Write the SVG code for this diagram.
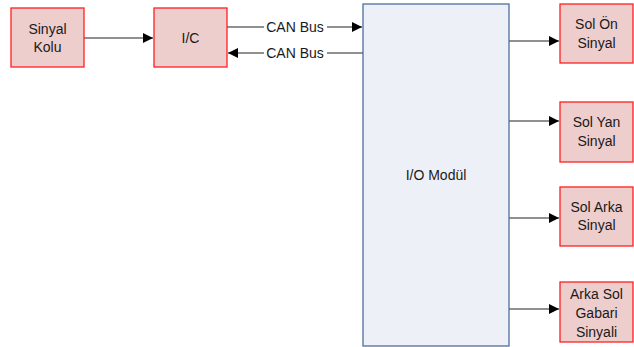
<svg xmlns="http://www.w3.org/2000/svg" width="634" height="347" viewBox="0 0 634 347">
  <style>
    .node { fill: #eecdcd; stroke: #ff1f1f; stroke-width: 1.3; }
    .module { fill: #edf0f6; stroke: #4f6f9f; stroke-width: 1.3; }
    .label { font-family: "Liberation Sans", Arial, sans-serif; font-size: 14px; fill: #1a1a1a; text-anchor: middle; }
    .wire { stroke: #222; stroke-width: 1.2; fill: none; }
  </style>
  <defs>
    <marker id="arrow" viewBox="0 0 10 10" refX="10" refY="5" markerWidth="10" markerHeight="10" markerUnits="userSpaceOnUse" orient="auto">
      <path d="M0,0 L10,5 L0,10 z" fill="#000"/>
    </marker>
  </defs>
  <rect width="634" height="347" fill="#fff"/>

  <g id="connectors">
    <line class="wire" x1="84" y1="38" x2="153" y2="38" marker-end="url(#arrow)"/>
    <line class="wire" x1="227" y1="27" x2="264" y2="27"/>
    <line class="wire" x1="327" y1="27" x2="362" y2="27" marker-end="url(#arrow)"/>
    <line class="wire" x1="363" y1="53" x2="327" y2="53"/>
    <line class="wire" x1="264" y1="53" x2="228" y2="53" marker-end="url(#arrow)"/>
    <text class="label" x="295" y="32">CAN Bus</text>
    <text class="label" x="295" y="58">CAN Bus</text>
    <line class="wire" x1="509" y1="41" x2="559" y2="41" marker-end="url(#arrow)"/>
    <line class="wire" x1="509" y1="121" x2="559" y2="121" marker-end="url(#arrow)"/>
    <line class="wire" x1="509" y1="218" x2="559" y2="218" marker-end="url(#arrow)"/>
    <line class="wire" x1="509" y1="309" x2="559" y2="309" marker-end="url(#arrow)"/>
  </g>

  <g id="sinyal-kolu">
    <rect class="node" x="11" y="8" width="73" height="59"/>
    <text class="label" x="47.5" y="34">Sinyal</text>
    <text class="label" x="47.5" y="52">Kolu</text>
  </g>

  <g id="ic">
    <rect class="node" x="154" y="8" width="73" height="59"/>
    <text class="label" x="190.5" y="43">I/C</text>
  </g>

  <g id="io-modul">
    <rect class="module" x="363" y="4" width="146" height="342"/>
    <text class="label" x="436" y="180">I/O Modül</text>
  </g>

  <g id="sol-on-sinyal">
    <rect class="node" x="560" y="4" width="73" height="59"/>
    <text class="label" x="596.5" y="29">Sol Ön</text>
    <text class="label" x="596.5" y="48">Sinyal</text>
  </g>

  <g id="sol-yan-sinyal">
    <rect class="node" x="560" y="102" width="73" height="60"/>
    <text class="label" x="596.5" y="127">Sol Yan</text>
    <text class="label" x="596.5" y="146">Sinyal</text>
  </g>

  <g id="sol-arka-sinyal">
    <rect class="node" x="560" y="187" width="73" height="59"/>
    <text class="label" x="596.5" y="212">Sol Arka</text>
    <text class="label" x="596.5" y="230">Sinyal</text>
  </g>

  <g id="arka-sol-gabari-sinyali">
    <rect class="node" x="560" y="282" width="73" height="60"/>
    <text class="label" x="596.5" y="299">Arka Sol</text>
    <text class="label" x="596.5" y="318">Gabari</text>
    <text class="label" x="596.5" y="337">Sinyali</text>
  </g>
</svg>
